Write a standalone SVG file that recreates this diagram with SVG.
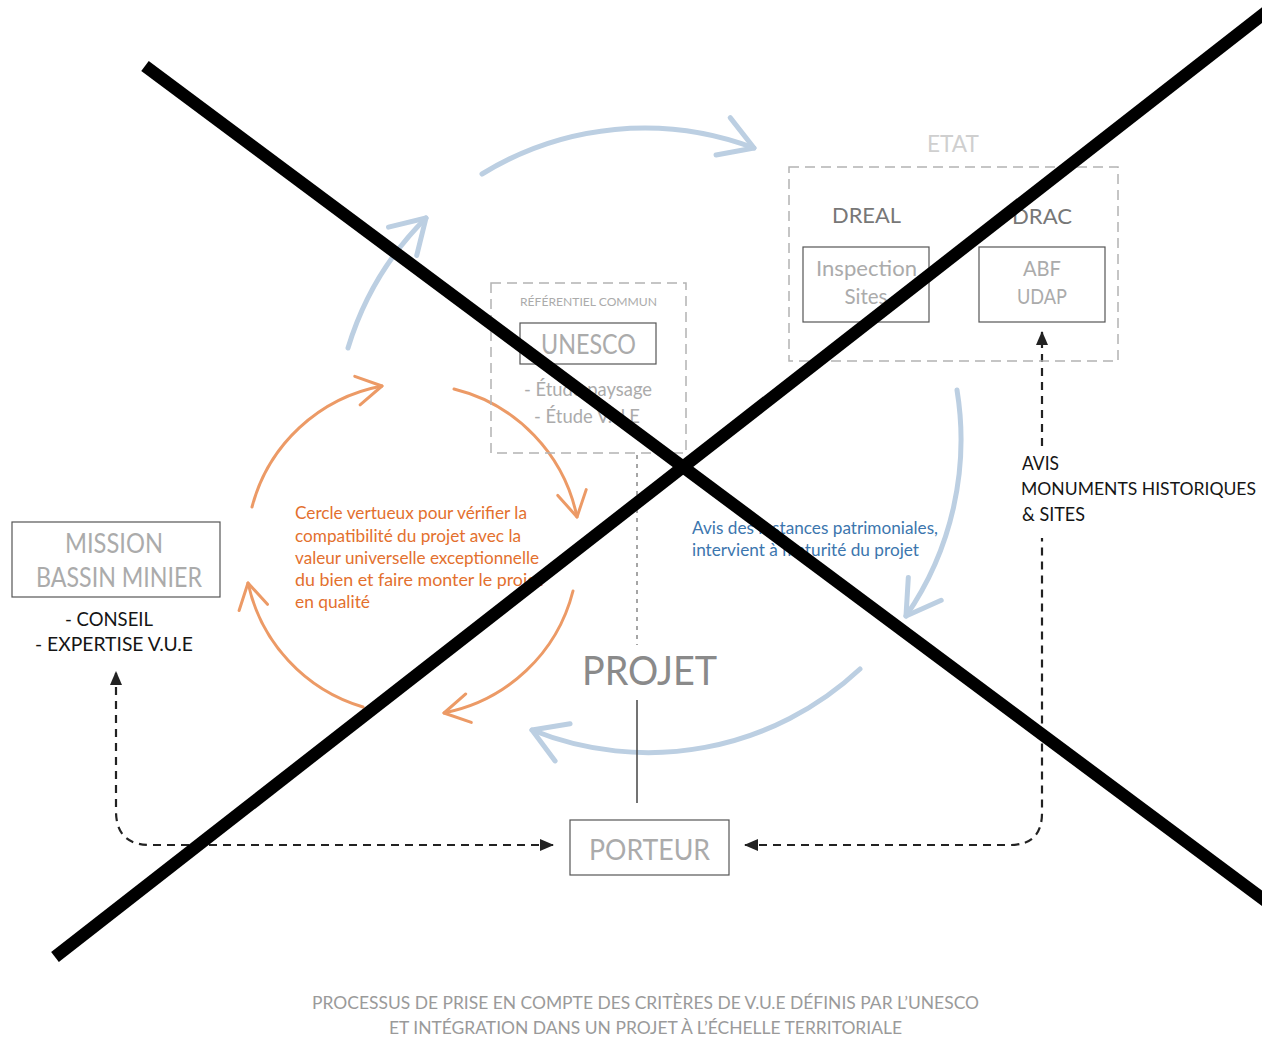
<svg xmlns="http://www.w3.org/2000/svg" width="1262" height="1037" viewBox="0 0 1262 1037">
<style>
text{font-family:Lato,"Open Sans","Liberation Sans",sans-serif}
.dbox{fill:none;stroke:#b3b3b3;stroke-width:1.5;stroke-dasharray:10 6}
.box{fill:#fff;stroke:#555;stroke-width:1.2}
.lg{fill:#ababab}
.dk{fill:#151515}
.blue{fill:none;stroke:#bccfe2;stroke-width:5;stroke-linecap:round}
.orng{fill:none;stroke:#ec9a66;stroke-width:3;stroke-linecap:round}
.dash{fill:none;stroke:#222;stroke-width:2.2;stroke-dasharray:8 6}
.cross{stroke:#000;stroke-width:12.5}
</style>
<defs>
<marker id="mb" markerUnits="userSpaceOnUse" markerWidth="10" markerHeight="10" refX="0" refY="0" orient="auto" overflow="visible">
<path d="M-33,-20 L0,0 L-33,20" fill="none" stroke="#bccfe2" stroke-width="5" stroke-linecap="round" stroke-linejoin="round"/>
</marker>
<marker id="mo" markerUnits="userSpaceOnUse" markerWidth="10" markerHeight="10" refX="0" refY="0" orient="auto" overflow="visible">
<path d="M-25,-14.5 L0,0 L-25,14.5" fill="none" stroke="#ec9a66" stroke-width="3" stroke-linecap="round" stroke-linejoin="round"/>
</marker>
<marker id="ma" markerUnits="userSpaceOnUse" markerWidth="10" markerHeight="10" refX="0" refY="0" orient="auto-start-reverse" overflow="visible">
<path d="M-13,-6 L1,0 L-13,6 Z" fill="#222"/>
</marker>
</defs>
<rect width="1262" height="1037" fill="#fff"/>

<g id="connectors">
<path class="blue" d="M348,348 A310,310 0 0 1 426,218" marker-end="url(#mb)"/>
<path class="blue" d="M482,174 A310,310 0 0 1 754,148" marker-end="url(#mb)"/>
<path class="blue" d="M957,390 A310,310 0 0 1 906,616" marker-end="url(#mb)"/>
<path class="blue" d="M860,669 A310,310 0 0 1 532,730" marker-end="url(#mb)"/>
<path class="orng" d="M252,507 A166,166 0 0 1 382,386" marker-end="url(#mo)"/>
<path class="orng" d="M454,389 A166,166 0 0 1 577,517" marker-end="url(#mo)"/>
<path class="orng" d="M573,591 A166,166 0 0 1 444,713" marker-end="url(#mo)"/>
<path class="orng" d="M363,707 A166,166 0 0 1 248,583" marker-end="url(#mo)"/>
<path d="M637,455 V645" fill="none" stroke="#888" stroke-width="1.5" stroke-dasharray="4 5"/>
<path d="M637,700 V803" fill="none" stroke="#444" stroke-width="1.5"/>
<path class="dash" d="M553,845 H150 Q116,845 116,811 V672" marker-start="url(#ma)" marker-end="url(#ma)"/>
<path class="dash" d="M745,845 H1010 Q1042,845 1042,813 V538" marker-start="url(#ma)"/>
<path class="dash" d="M1042,446 V332" marker-end="url(#ma)"/>
</g>

<g id="etat">
<text x="953" y="152" font-size="24" fill="#cfcfcf" text-anchor="middle" textLength="52" lengthAdjust="spacingAndGlyphs">ETAT</text>
<rect class="dbox" x="789" y="167" width="329" height="194"/>
</g>
<g id="dreal">
<text x="832" y="223" font-size="22" fill="#777" textLength="69" lengthAdjust="spacingAndGlyphs">DREAL</text>
</g>
<g id="drac">
<text x="1042" y="224" font-size="22" fill="#777" text-anchor="middle" textLength="60" lengthAdjust="spacingAndGlyphs">DRAC</text>
</g>
<g id="inspection-sites">
<rect class="box" x="803" y="247" width="126" height="75"/>
<text x="816" y="276" font-size="22" class="lg" textLength="101" lengthAdjust="spacingAndGlyphs">Inspection</text>
<text x="866" y="304" font-size="22" class="lg" text-anchor="middle" textLength="43" lengthAdjust="spacingAndGlyphs">Sites</text>
</g>
<g id="abf-udap">
<rect class="box" x="979" y="247" width="126" height="75"/>
<text x="1042" y="276" font-size="22" class="lg" text-anchor="middle" textLength="38" lengthAdjust="spacingAndGlyphs">ABF</text>
<text x="1042" y="304" font-size="22" class="lg" text-anchor="middle" textLength="50" lengthAdjust="spacingAndGlyphs">UDAP</text>
</g>
<g id="referentiel">
<rect class="dbox" x="491" y="283" width="195" height="170"/>
<text x="520" y="306" font-size="12" class="lg" textLength="137" lengthAdjust="spacingAndGlyphs">RÉFÉRENTIEL COMMUN</text>
<text x="524" y="396" font-size="19" class="lg" textLength="128" lengthAdjust="spacingAndGlyphs">- Étude paysage</text>
<text x="534" y="423" font-size="19" class="lg" textLength="106" lengthAdjust="spacingAndGlyphs">- Étude V.U.E</text>
</g>
<g id="unesco">
<rect class="box" x="520" y="323" width="136" height="41"/>
<text x="541" y="354" font-size="26" class="lg" textLength="95" lengthAdjust="spacingAndGlyphs">UNESCO</text>
</g>
<g id="projet">
<text x="582" y="685" font-size="40" fill="#8a8a8a" textLength="135" lengthAdjust="spacingAndGlyphs">PROJET</text>
</g>
<g id="porteur">
<rect class="box" x="570" y="820" width="159" height="55"/>
<text x="589" y="860" font-size="28" class="lg" textLength="121" lengthAdjust="spacingAndGlyphs">PORTEUR</text>
</g>
<g id="mission">
<rect class="box" x="12" y="522" width="208" height="75"/>
<text x="65" y="553" font-size="27" class="lg" textLength="98" lengthAdjust="spacingAndGlyphs">MISSION</text>
<text x="36" y="587" font-size="27" class="lg" textLength="166" lengthAdjust="spacingAndGlyphs">BASSIN MINIER</text>
<text x="65" y="626" font-size="19" class="dk" textLength="88" lengthAdjust="spacingAndGlyphs">- CONSEIL</text>
<text x="35" y="651" font-size="19" class="dk" textLength="158" lengthAdjust="spacingAndGlyphs">- EXPERTISE V.U.E</text>
</g>
<g id="avis">
<rect x="1015" y="448" width="247" height="86" fill="#fff"/>
<text x="1022" y="470" font-size="19" class="dk" textLength="37" lengthAdjust="spacingAndGlyphs">AVIS</text>
<text x="1021" y="495" font-size="18" class="dk" textLength="235" lengthAdjust="spacingAndGlyphs">MONUMENTS HISTORIQUES</text>
<text x="1022" y="521" font-size="19" class="dk" textLength="63" lengthAdjust="spacingAndGlyphs">&amp; SITES</text>
</g>
<g id="cercle" fill="#e3702e" font-size="17">
<text x="295" y="519" textLength="232" lengthAdjust="spacingAndGlyphs">Cercle vertueux pour vérifier la</text>
<text x="295" y="542" textLength="226" lengthAdjust="spacingAndGlyphs">compatibilité du projet avec la</text>
<text x="295" y="564" textLength="244" lengthAdjust="spacingAndGlyphs">valeur universelle exceptionnelle</text>
<text x="295" y="586" textLength="248" lengthAdjust="spacingAndGlyphs">du bien et faire monter le projet</text>
<text x="295" y="608" textLength="75" lengthAdjust="spacingAndGlyphs">en qualité</text>
</g>
<g id="avis-instances" fill="#3c76ae" font-size="17">
<text x="692" y="534" textLength="246" lengthAdjust="spacingAndGlyphs">Avis des instances patrimoniales,</text>
<text x="692" y="556" textLength="227" lengthAdjust="spacingAndGlyphs">intervient à maturité du projet</text>
</g>
<g id="caption" fill="#9a9a9a" font-size="17">
<text x="312" y="1009" textLength="667" lengthAdjust="spacingAndGlyphs">PROCESSUS DE PRISE EN COMPTE DES CRITÈRES DE V.U.E DÉFINIS PAR L’UNESCO</text>
<text x="389" y="1034" textLength="513" lengthAdjust="spacingAndGlyphs">ET INTÉGRATION DANS UN PROJET À L’ÉCHELLE TERRITORIALE</text>
</g>

<g id="cross">
<line class="cross" x1="145" y1="66" x2="1275" y2="908"/>
<line class="cross" x1="55" y1="957" x2="1275" y2="5"/>
</g>
</svg>
